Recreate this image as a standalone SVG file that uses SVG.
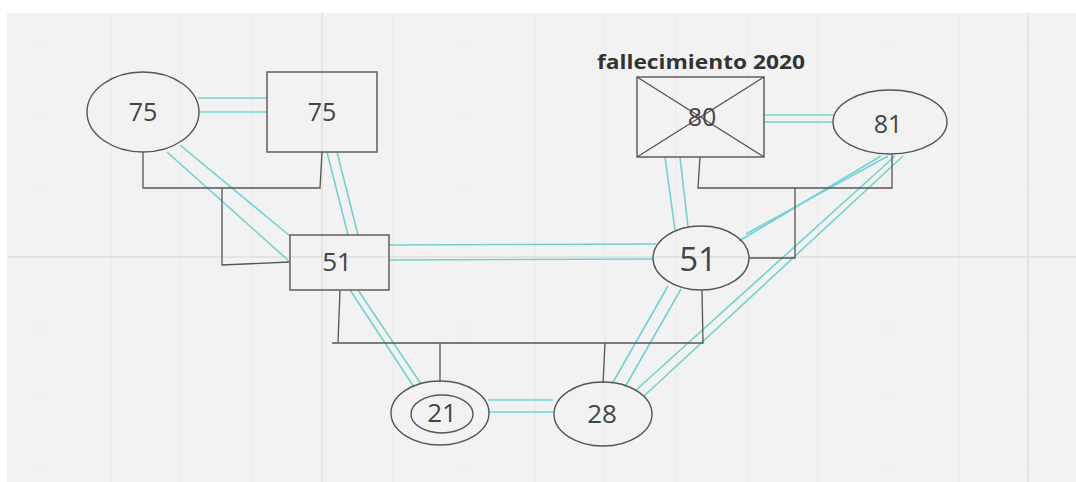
<svg xmlns="http://www.w3.org/2000/svg" width="1076" height="482" viewBox="0 0 1076 482">
<defs>
<style>
.bg{fill:#f2f2f2}
.grid{stroke:#eaeaea;stroke-width:1}
.hgrid{stroke:#eeeeee;stroke-width:1}
.major{stroke:#dedede;stroke-width:1.5}
.node{fill:none;stroke:#555;stroke-width:1.4}
.rel{fill:none;stroke:#6fd3d3;stroke-width:1.6}
.fam{fill:none;stroke:#555;stroke-width:1.3}
.lbl{font-family:"Open Sans","Liberation Sans",sans-serif;fill:#444;text-anchor:middle}
.note{font-family:"Open Sans","Liberation Sans",sans-serif;font-weight:bold;fill:#333;text-anchor:middle}
</style>
</defs>
<rect width="1076" height="482" fill="#ffffff"/>
<rect class="bg" x="7" y="13" width="1069" height="469"/>
<g id="grid">
<line class="grid" x1="40" y1="13" x2="40" y2="482"/>
<line class="grid" x1="111" y1="13" x2="111" y2="482"/>
<line class="grid" x1="181" y1="13" x2="181" y2="482"/>
<line class="grid" x1="252" y1="13" x2="252" y2="482"/>
<line class="major" x1="322" y1="13" x2="322" y2="482"/>
<line class="grid" x1="393" y1="13" x2="393" y2="482"/>
<line class="grid" x1="464" y1="13" x2="464" y2="482"/>
<line class="grid" x1="535" y1="13" x2="535" y2="482"/>
<line class="grid" x1="605" y1="13" x2="605" y2="482"/>
<line class="grid" x1="676" y1="13" x2="676" y2="482"/>
<line class="grid" x1="747" y1="13" x2="747" y2="482"/>
<line class="grid" x1="818" y1="13" x2="818" y2="482"/>
<line class="grid" x1="888" y1="13" x2="888" y2="482"/>
<line class="grid" x1="959" y1="13" x2="959" y2="482"/>
<line class="major" x1="1028" y1="13" x2="1028" y2="482"/>
<line class="hgrid" x1="7" y1="45" x2="1076" y2="45"/>
<line class="hgrid" x1="7" y1="116" x2="1076" y2="116"/>
<line class="hgrid" x1="7" y1="186" x2="1076" y2="186"/>
<line class="major" x1="7" y1="257" x2="1076" y2="257"/>
<line class="hgrid" x1="7" y1="328" x2="1076" y2="328"/>
<line class="hgrid" x1="7" y1="398" x2="1076" y2="398"/>
<line class="hgrid" x1="7" y1="469" x2="1076" y2="469"/>
</g>
<g id="connectors">
<line class="rel" x1="198" y1="98" x2="267" y2="98"/>
<line class="rel" x1="198" y1="112" x2="267" y2="112"/>
<line class="rel" x1="167" y1="152" x2="289" y2="261"/>
<line class="rel" x1="180" y1="145" x2="290" y2="236"/>
<line class="rel" x1="327" y1="152" x2="348" y2="235"/>
<line class="rel" x1="337" y1="152" x2="358" y2="235"/>
<line class="rel" x1="389" y1="245" x2="656" y2="244"/>
<line class="rel" x1="389" y1="260" x2="653" y2="259"/>
<line class="rel" x1="764" y1="115" x2="834" y2="115"/>
<line class="rel" x1="764" y1="122" x2="833" y2="122"/>
<line class="rel" x1="665" y1="157" x2="675" y2="230"/>
<line class="rel" x1="680" y1="157" x2="688" y2="227"/>
<line class="rel" x1="881" y1="156" x2="739" y2="241"/>
<line class="rel" x1="888" y1="156" x2="746" y2="234"/>
<line class="rel" x1="895" y1="156" x2="635" y2="391"/>
<line class="rel" x1="903" y1="156" x2="644" y2="396"/>
<line class="rel" x1="668" y1="286" x2="612" y2="384"/>
<line class="rel" x1="681" y1="289" x2="625" y2="387"/>
<line class="rel" x1="350" y1="290" x2="414" y2="387"/>
<line class="rel" x1="358" y1="290" x2="421" y2="384"/>
<line class="rel" x1="488" y1="400" x2="553" y2="400"/>
<line class="rel" x1="488" y1="412" x2="553" y2="412"/>
<polyline class="fam" points="143,152 143,188 320,188 322,152"/>
<polyline class="fam" points="222,188 222,265 289,262"/>
<polyline class="fam" points="700,157 698,188 892,188 892,154"/>
<polyline class="fam" points="795,188 795,258 749,258"/>
<polyline class="fam" points="340,290 338,343 332,343 703,343 702,290"/>
<line class="fam" x1="440" y1="343" x2="440" y2="382"/>
<line class="fam" x1="605" y1="343" x2="603" y2="383"/>
</g>
<g id="n-grandma-left">
<ellipse class="node" cx="143" cy="112" rx="56" ry="40"/>
<text class="lbl" x="143" y="121" font-size="25">75</text>
</g>
<g id="n-grandpa-left">
<rect class="node" x="267" y="72" width="110" height="80"/>
<text class="lbl" x="322" y="121" font-size="25">75</text>
</g>
<g id="n-grandpa-right">
<text class="note" x="701" y="69" font-size="19" textLength="208" lengthAdjust="spacingAndGlyphs">fallecimiento 2020</text>
<rect class="node" x="637" y="77" width="127" height="80"/>
<line class="node" x1="637" y1="77" x2="764" y2="157"/>
<line class="node" x1="764" y1="77" x2="637" y2="157"/>
<text class="lbl" x="702" y="126" font-size="25">80</text>
</g>
<g id="n-grandma-right">
<ellipse class="node" cx="890" cy="122" rx="57" ry="32"/>
<text class="lbl" x="888" y="133" font-size="25">81</text>
</g>
<g id="n-father">
<rect class="node" x="290" y="235" width="99" height="55"/>
<text class="lbl" x="337" y="271" font-size="26">51</text>
</g>
<g id="n-mother">
<ellipse class="node" cx="701" cy="258" rx="48" ry="32"/>
<text class="lbl" x="698" y="271" font-size="33">51</text>
</g>
<g id="n-index">
<ellipse class="node" cx="440" cy="413" rx="49" ry="32"/>
<ellipse class="node" cx="442" cy="414" rx="31" ry="19"/>
<text class="lbl" x="442" y="422" font-size="26">21</text>
</g>
<g id="n-sibling">
<ellipse class="node" cx="603" cy="414" rx="49" ry="32"/>
<text class="lbl" x="602" y="423" font-size="26">28</text>
</g>
</svg>
